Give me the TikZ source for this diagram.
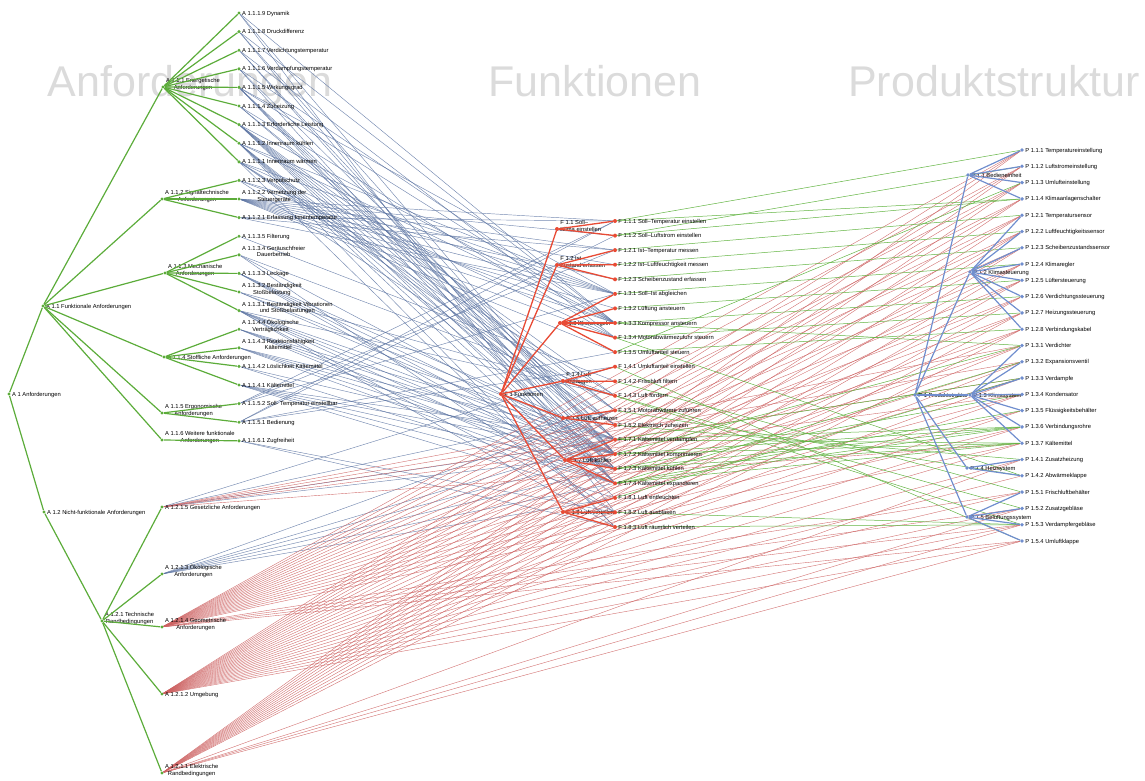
\documentclass[tikz,border=0pt]{standalone}
\usepackage{fontspec}
\setmainfont{Liberation Sans}
\definecolor{agreen}{RGB}{92,172,58}
\definecolor{fred}{RGB}{232,74,52}
\definecolor{pblue}{RGB}{112,142,206}
\definecolor{lblue}{RGB}{92,116,162}
\definecolor{lred}{RGB}{204,96,96}
\definecolor{lgreen}{RGB}{98,180,66}
\pgfdeclarelayer{background}
\pgfsetlayers{background,main}

\begin{document}
\begin{tikzpicture}[x=1pt,y=-1pt,
  adot/.style={circle,fill=agreen,inner sep=0pt,minimum size=3.4pt},
  fdot/.style={circle,fill=fred,inner sep=0pt,minimum size=4pt},
  pdot/.style={circle,fill=pblue,inner sep=0pt,minimum size=3.8pt},
  lbl/.style={anchor=base west,font=\fontsize{5.8}{6.3}\selectfont,inner sep=1pt,yshift=-2pt},
  alab/.style={lbl,align=center},
  flab/.style={lbl,align=left},
  title/.style={anchor=base,text=black!14,font=\fontsize{43}{48}\selectfont},
  atree/.style={agreen,line width=1.2pt},
  ftree/.style={fred,line width=1.3pt},
  ptree/.style={pblue,line width=1.2pt},
  alink/.style={lblue,line width=0.45pt,opacity=0.85},
  rlink/.style={lred,line width=0.4pt,opacity=0.9},
  glink/.style={lgreen,line width=0.5pt}]
\useasboundingbox (0,0) rectangle (1145,780);

% requirements tree
\node[adot,label={[alab]0:A 1 Anforderungen}] (a1) at (9,394) {};
\node[adot,label={[alab]0:A 1.1 Funktionale Anforderungen}] (a11) at (43,306) {};
\node[adot,label={[alab]0:A 1.2 Nicht-funktionale Anforderungen}] (a12) at (44,512) {};
\node[adot,label={[alab]0:A 1.1.1 Energetische\\Anforderungen}] (a111) at (163,87) {};
\node[adot,label={[alab]0:A 1.1.2 Signaltechnische\\Anforderungen}] (a112) at (162,199) {};
\node[adot,label={[alab]0:A 1.1.3 Mechanische\\Anforderungen}] (a113) at (165,273) {};
\node[adot,label={[alab]0:A 1.1.4 Stoffliche Anforderungen}] (a114) at (164,357) {};
\node[adot,label={[alab]0:A 1.1.5 Ergonomische\\Anforderungen}] (a115) at (162,413) {};
\node[adot,label={[alab]0:A 1.1.6 Weitere funktionale\\Anforderungen}] (a116) at (162,440) {};
\node[adot,label={[alab]0:A 1.2.1 Technische\\Randbedingungen}] (a121) at (102,621) {};
\node[adot,label={[alab]0:A 1.2.1.5 Gesetzliche Anforderungen}] (a1215) at (162,507) {};
\node[adot,label={[alab]0:A 1.2.1.3 Ökologische\\Anforderungen}] (a1213) at (162,574) {};
\node[adot,label={[alab]0:A 1.2.1.4 Geometrische\\Anforderungen}] (a1214) at (162,627) {};
\node[adot,label={[alab]0:A 1.2.1.2 Umgebung}] (a1212) at (162,694) {};
\node[adot,label={[alab]0:A 1.2.1.1 Elektrische\\Randbedingungen}] (a1211) at (162,773) {};
\foreach \y/\n/\t in {13/a1119/{A 1.1.1.9 Dynamik}, 31.6/a1118/{A 1.1.1.8 Druckdifferenz},
    50.2/a1117/{A 1.1.1.7 Verdichtungstemperatur}, 68.8/a1116/{A 1.1.1.6 Verdampfungstemperatur},
    87.4/a1115/{A 1.1.1.5 Wirkungsgrad}, 106/a1114/{A 1.1.1.4 Zuheizung},
    124.6/a1113/{A 1.1.1.3 Erforderliche Leistung}, 143.2/a1112/{A 1.1.1.2 Innenraum kühlen},
    161.8/a1111/{A 1.1.1.1 Innenraum wärmen}, 180.4/a1123/{A 1.1.2.3 Verpolschutz},
    199/a1122/{A 1.1.2.2 Vernetzung der\\Steuergeräte}, 217.6/a1121/{A 1.1.2.1 Erfassung Innentemperatur},
    236.2/a1135/{A 1.1.3.5 Filterung}, 254.8/a1134/{A 1.1.3.4 Geräuschfreier\\Dauerbetrieb},
    273.4/a1133/{A 1.1.3.3 Leckage}, 292/a1132/{A 1.1.3.2 Beständigkeit\\Stoßbelastung},
    310.6/a1131/{A 1.1.3.1 Beständigkeit Vibrationen\\und Stoßbelastungen},
    329.2/a1144/{A 1.1.4.4 Ökologische\\Verträglichkeit}, 347.8/a1143/{A 1.1.4.3 Reaktionsfähigkeit\\Kältemittel},
    366.4/a1142/{A 1.1.4.2 Löslichkeit Kältemittel}, 385/a1141/{A 1.1.4.1 Kältemittel},
    403.6/a1152/{A 1.1.5.2 Soll- Temperatur einstellbar}, 422.2/a1151/{A 1.1.5.1 Bedienung},
    440.8/a1161/{A 1.1.6.1 Zugfreiheit}}
  \node[adot,label={[alab]0:\t}] (\n) at (239,\y) {};

% function tree
\node[fdot,label={[flab]0:F 1 Funktionen}] (f1) at (501,394) {};
\node[fdot,label={[flab]0:F 1.1 Soll--\\Klima einstellen}] (f11) at (557,229) {};
\node[fdot,label={[flab]0:F 1.2 Ist--\\Zustand erfassen}] (f12) at (557,265) {};
\node[fdot,label={[flab]0:F 1.3 Klima regeln}] (f13) at (560,323) {};
\node[fdot,label={[flab]0:F 1.4 Luft\\ansaugen}] (f14) at (563,381) {};
\node[fdot,label={[flab]0:F 1.5 Luft aufheizen}] (f15) at (563,418) {};
\node[fdot,label={[flab]0:F 1.7 Luft kühlen}] (f17) at (565,460) {};
\node[fdot,label={[flab]0:F 1.8 Luft verteilen}] (f18) at (563,512) {};
\foreach \y/\n/\t in {221/f111/{F 1.1.1 Soll--Temperatur einstellen}, 235.6/f112/{F 1.1.2 Soll--Luftstrom einstellen},
    250.1/f121/{F 1.2.1 Ist--Temperatur messen}, 264.7/f122/{F 1.2.2 Ist--Luftfeuchtigkeit messen},
    279.3/f123/{F 1.2.3 Scheibenzustand erfassen}, 293.9/f131/{F 1.3.1 Soll--Ist abgleichen},
    308.4/f132/{F 1.3.2 Lüftung ansteuern}, 323/f133/{F 1.3.3 Kompressor ansteuern},
    337.6/f134/{F 1.3.4 Motorabwärmezufuhr steuern}, 352.1/f135/{F 1.3.5 Umluftanteil steuern},
    366.7/f141/{F 1.4.1 Umluftanteil einstellen}, 381.3/f142/{F 1.4.2 Frischluft filtern},
    395.8/f143/{F 1.4.3 Luft fördern}, 410.4/f151/{F 1.5.1 Motorabwärme zuführen},
    425/f152/{F 1.5.2 Elektrisch zuheizen}, 439.6/f171/{F 1.7.1 Kältemittel verdampfen},
    454.1/f172/{F 1.7.2 Kältemittel komprimieren}, 468.7/f173/{F 1.7.3 Kältemittel kühlen},
    483.3/f174/{F 1.7.4 Kältemittel expandieren}, 497.9/f181/{F 1.8.1 Luft entfeuchten},
    512.4/f182/{F 1.8.2 Luft ausblasen}, 527/f183/{F 1.8.3 Luft räumlich verteilen}}
  \node[fdot,label={[flab]0:\t}] (\n) at (615,\y) {};

% product tree
\node[pdot,label={[flab]0:P 1 Produktstruktur}] (p1) at (915,395) {};
\node[pdot,label={[flab]0:P 1.1 Bedieneinheit}] (p11) at (968,175) {};
\node[pdot,label={[flab]0:P 1.2 Klimasteuerung}] (p12) at (970,272) {};
\node[pdot,label={[flab]0:P 1.3 Klimasystem}] (p13) at (970,395) {};
\node[pdot,label={[flab]0:P 1.4 Heizsystem}] (p14) at (967,468) {};
\node[pdot,label={[flab]0:P 1.5 Belüftungssystem}] (p15) at (967,517) {};
\foreach \y/\n/\t in {150/p111/{P 1.1.1 Temperatureinstellung}, 166.3/p112/{P 1.1.2 Luftstromeinstellung},
    182.6/p113/{P 1.1.3 Umlufteinstellung}, 198.9/p114/{P 1.1.4 Klimaanlagenschalter},
    215.2/p121/{P 1.2.1 Temperatursensor}, 231.5/p122/{P 1.2.2 Luftfeuchtigkeitssensor},
    247.7/p123/{P 1.2.3 Scheibenzustandssensor}, 264/p124/{P 1.2.4 Klimaregler},
    280.3/p125/{P 1.2.5 Lüftersteuerung}, 296.6/p126/{P 1.2.6 Verdichtungssteuerung},
    312.9/p127/{P 1.2.7 Heizungssteuerung}, 329.2/p128/{P 1.2.8 Verbindungskabel},
    345.5/p131/{P 1.3.1 Verdichter}, 361.8/p132/{P 1.3.2 Expansionsventil},
    378.1/p133/{P 1.3.3 Verdampfe}, 394.4/p134/{P 1.3.4 Kondensator},
    410.6/p135/{P 1.3.5 Flüssigkeitsbehälter}, 426.9/p136/{P 1.3.6 Verbindungsrohre},
    443.2/p137/{P 1.3.7 Kältemittel}, 459.5/p141/{P 1.4.1 Zusatzheizung},
    475.8/p142/{P 1.4.2 Abwärmeklappe}, 492.1/p151/{P 1.5.1 Frischluftbehälter},
    508.4/p152/{P 1.5.2 Zusatzgebläse}, 524.7/p153/{P 1.5.3 Verdampfergebläse},
    541/p154/{P 1.5.4 Umluftklappe}}
  \node[pdot,label={[flab]0:\t}] (\n) at (1022,\y) {};

% titles and relations, behind everything
\begin{pgfonlayer}{background}
\node[title] (tanf) at (190,96) {Anforderungen};
\node[title] (tfkt) at (595,96) {Funktionen};
\node[title] (tprd) at (994,96) {Produktstruktur};
\foreach \s/\ts in {a1119/{f133,f172,f182}, a1118/{f172,f174,f133}, a1117/{f172,f173,f134},
    a1116/{f171,f174,f133}, a1115/{f131,f133,f171,f172,f173,f174}, a1114/{f134,f151,f152},
    a1113/{f133,f143,f151,f152,f171,f172,f173,f174}, a1112/{f131,f133,f171,f172,f173,f174,f181,f183},
    a1111/{f131,f134,f151,f152,f183,f143}, a1123/{f131,f133,f152},
    a1122/{f111,f112,f121,f122,f123,f131,f132,f133,f134,f135}, a1121/{f121,f111,f131},
    a1135/{f142}, a1134/{f143,f172,f182}, a1133/{f171,f172,f173,f174}, a1132/{f172,f143,f171},
    a1131/{f171,f172,f173,f174,f143,f182,f183}, a1144/{f171,f172,f173,f174}, a1143/{f171,f172,f173,f174},
    a1142/{f172,f174}, a1141/{f171,f172,f173,f174,f181}, a1152/{f111,f131,f121},
    a1151/{f111,f112,f135,f141}, a1161/{f182,f183}, a1215/{f171,f172,f141,f151},
    a1213/{f171,f172,f173,f174,f151,f181}}
  \foreach \t in \ts \draw[alink] (\s) -- (\t);
\foreach \s/\ts in {a1214/{p111,p112,p113,p114,p121,p122,p123,p124,p125,p126,p127,p128,p131,p132,p133,p134,p135,p136,p137,p151,p152,p153,p154},
    a1212/{p111,p112,p113,p114,p121,p122,p123,p124,p125,p126,p127,p128,p131,p132,p133,p134,p135,p136,p137,p141,p142,p151,p152,p153,p154},
    a1211/{p111,p112,p113,p114,p121,p122,p123,p124,p125,p126,p127,p128,p141,p152,p153,p154},
    a1215/{p131,p132,p133,p134,p137}}
  \foreach \t in \ts \draw[rlink] (\s) -- (\t);
\foreach \s/\t in {f111/p111, f111/p114, f112/p112, f112/p114, f121/p121, f122/p122, f123/p123,
    f131/p124, f132/p125, f133/p126, f133/p131, f134/p127, f134/p142, f135/p113, f135/p128,
    f141/p154, f142/p151, f143/p153, f143/p152, f151/p142, f152/p141, f171/p133, f171/p136,
    f171/p137, f172/p131, f172/p136, f172/p137, f173/p134, f173/p136, f173/p137, f174/p132,
    f174/p136, f174/p137, f174/p135, f181/p133, f182/p153, f183/p153}
  \draw[glink] (\s) -- (\t);
\end{pgfonlayer}

% tree edges
\foreach \c in {a11,a12} \draw[atree] (a1) -- (\c);
\foreach \c in {a111,a112,a113,a114,a115,a116} \draw[atree] (a11) -- (\c);
\draw[atree] (a12) -- (a121);
\foreach \c in {1,...,5} \draw[atree] (a121) -- (a121\c);
\foreach \c in {1,...,9} \draw[atree] (a111) -- (a111\c);
\foreach \c in {1,2,3} \draw[atree] (a112) -- (a112\c);
\foreach \c in {1,...,5} \draw[atree] (a113) -- (a113\c);
\foreach \c in {1,...,4} \draw[atree] (a114) -- (a114\c);
\foreach \c in {1,2} \draw[atree] (a115) -- (a115\c);
\draw[atree] (a116) -- (a1161);
\foreach \c in {f11,f12,f13,f14,f15,f17,f18} \draw[ftree] (f1) -- (\c);
\foreach \c in {1,2} \draw[ftree] (f11) -- (f11\c);
\foreach \c in {1,2,3} \draw[ftree] (f12) -- (f12\c);
\foreach \c in {1,...,5} \draw[ftree] (f13) -- (f13\c);
\foreach \c in {1,2,3} \draw[ftree] (f14) -- (f14\c);
\foreach \c in {1,2} \draw[ftree] (f15) -- (f15\c);
\foreach \c in {1,...,4} \draw[ftree] (f17) -- (f17\c);
\foreach \c in {1,2,3} \draw[ftree] (f18) -- (f18\c);
\foreach \c in {p11,p12,p13,p14,p15} \draw[ptree] (p1) -- (\c);
\foreach \c in {1,...,4} \draw[ptree] (p11) -- (p11\c);
\foreach \c in {1,...,8} \draw[ptree] (p12) -- (p12\c);
\foreach \c in {1,...,7} \draw[ptree] (p13) -- (p13\c);
\foreach \c in {1,2} \draw[ptree] (p14) -- (p14\c);
\foreach \c in {1,...,4} \draw[ptree] (p15) -- (p15\c);
\end{tikzpicture}
\end{document}
